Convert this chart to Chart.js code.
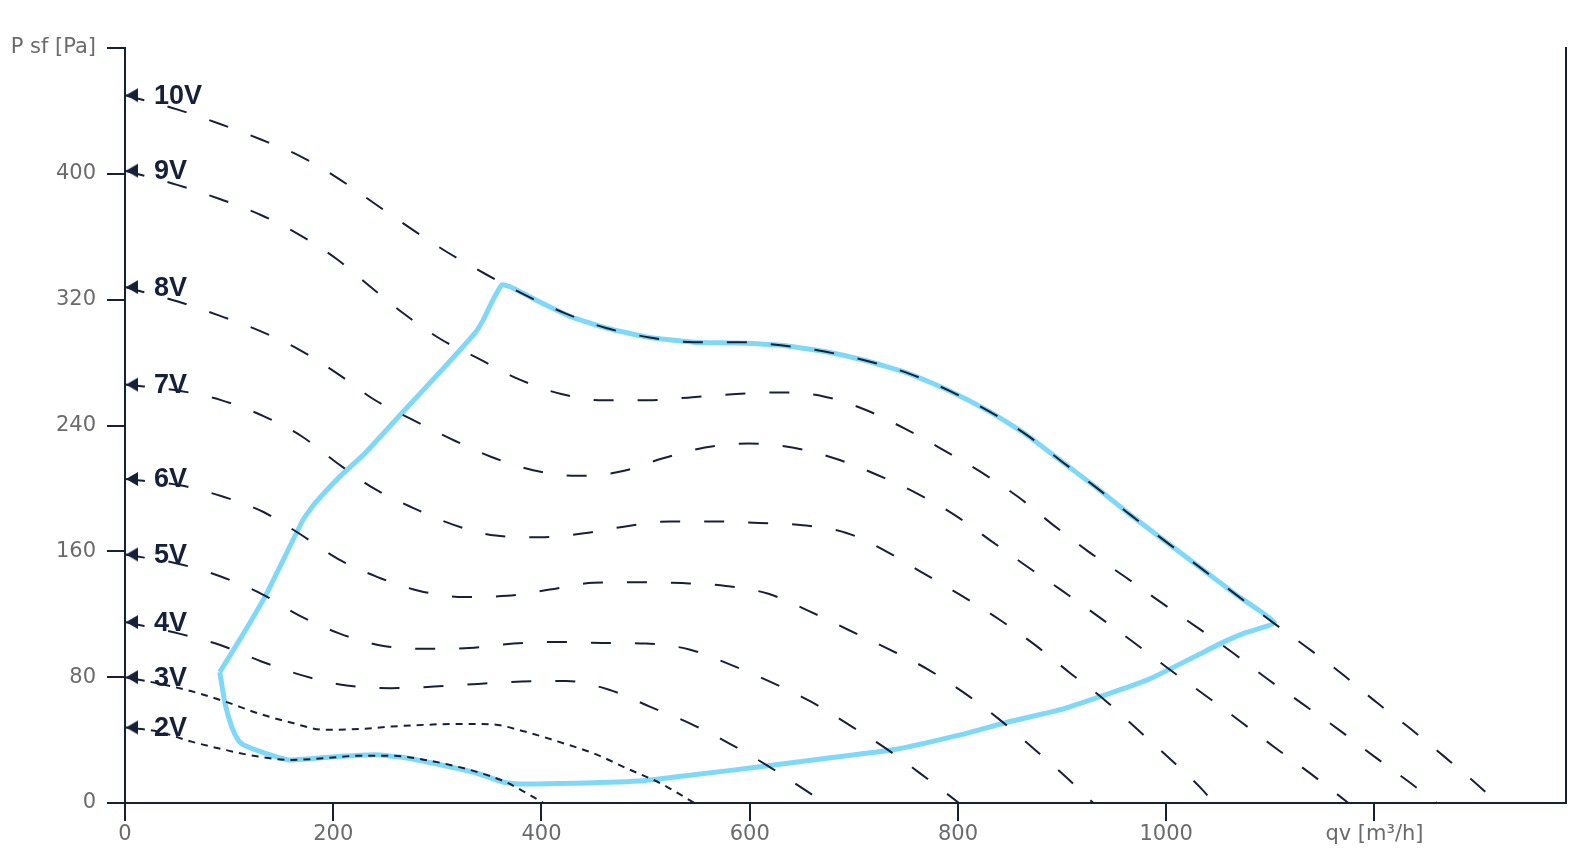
<!DOCTYPE html>
<html lang="en">
<head>
    <meta charset="UTF-8">
    <title>Fan curve P sf / qv</title>
    <style>
        body {
            margin: 0;
            background-color: #ffffff;
        }
        .chart-container {
            width: 1596px;
            height: 856px;
        }
    </style>
    <script src="https://cdn.jsdelivr.net/npm/chart.js"></script>
</head>
<body>

    <div class="chart-container">
        <canvas id="fanChart"></canvas>
    </div>

    <script>
        // control voltage curves: airflow qv [m3/h] and static pressure P sf [Pa]
        const voltLabels = ['10V', '9V', '8V', '7V', '6V', '5V', '4V', '3V', '2V'];

        const v10Qv = [0, 50, 90, 130, 169, 205, 240, 275, 310, 347, 384, 424, 462, 504, 546, 588, 630, 672, 713, 753, 792, 830, 866, 900, 933, 966, 1000, 1034, 1068, 1102, 1135, 1169, 1202, 1235, 1268, 1300, 1318];
        const v10Ps = [450, 441, 432, 422, 411, 397, 381, 365, 350, 336, 323, 311, 302, 296, 293, 293, 291, 287, 281, 273, 262, 249, 234, 217, 200.5, 183, 166, 149, 132, 115, 99, 82, 64, 47, 29, 11, 0];

        const v9Qv = [0, 50, 91, 130, 168, 203, 236, 268, 303, 341, 378, 419, 460, 503, 545, 587, 629, 671, 711, 749, 787, 823, 858, 891, 925, 960, 994, 1029, 1063, 1097, 1131, 1166, 1200, 1234, 1260];
        const v9Ps = [402, 393, 384, 374, 361, 346, 328, 311, 295, 282, 269.5, 260, 256, 256, 258, 260, 261, 258.5, 250, 238, 224, 210, 194.5, 177, 160, 144, 128, 112, 96, 79, 63, 46.5, 29.5, 13, 0];

        const v8Qv = [0, 50, 90, 130, 168, 204, 238, 275, 313, 352, 392, 434, 476, 516, 557, 599, 641, 682, 721, 760, 797, 831, 865, 900, 935, 969, 1003, 1037, 1071, 1105, 1139, 1175];
        const v8Ps = [328, 319, 310, 300, 288, 273, 257, 244, 231.5, 220, 211.6, 208, 210.7, 219, 226, 228.5, 226, 219, 209, 197, 183, 167, 151, 135, 118.5, 102, 85, 68.7, 52, 35, 18.5, 0];

        const v7Qv = [0, 53, 93, 133, 170, 204, 239, 277, 315, 356, 399, 441, 482, 524, 567, 609, 651, 693, 731, 767, 803, 839, 874, 907, 940, 972, 1003, 1034, 1046];
        const v7Ps = [266, 262, 256, 246, 233, 216, 200, 187.5, 177, 170, 169, 171.5, 176, 179, 179, 178, 176.6, 171.7, 160, 146, 132, 117, 100.5, 83, 66, 47, 28.5, 9, 0];

        const v6Qv = [0, 53, 93, 133, 168, 204, 242, 282, 325, 367, 408, 450, 492, 535, 577, 618, 657, 695, 733, 771, 806, 840, 872, 904, 930];
        const v6Ps = [206, 202, 195, 185, 171, 155.4, 143.8, 135, 131, 131.7, 135.7, 140, 140.4, 139.8, 138, 133, 122, 110, 98, 85, 70, 53, 35, 16.4, 0];

        const v5Qv = [0, 52, 92, 131, 168, 205, 247, 289, 331, 373, 416, 458, 500, 542, 582, 620, 658, 694, 730, 764, 801];
        const v5Ps = [158, 152, 144, 133, 119, 108, 100, 98, 98.6, 101.4, 102.4, 101.8, 101.4, 97.6, 87.8, 77, 64.7, 50.3, 35, 18.7, 0];

        const v4Qv = [0, 52, 92, 131, 172, 213, 255, 297, 339, 381, 424, 465, 504, 543, 581, 617, 653, 672];
        const v4Ps = [115, 107.7, 100.3, 90, 80.8, 74.7, 73, 74, 75.7, 77.2, 77.5, 72, 61.3, 50.5, 37.6, 23.8, 8.3, 0];

        const v3Qv = [0, 32, 64, 96, 128, 160, 192, 224, 256, 288, 320, 352, 384, 421, 450, 482, 514, 547];
        const v3Ps = [80, 76, 71, 64.5, 57, 51, 46.5, 47, 48.6, 49.7, 50.3, 50, 45.4, 38, 31.6, 22, 12.6, 0];

        const v2Qv = [0, 32, 64, 96, 128, 160, 192, 224, 256, 288, 320, 352, 368, 402];
        const v2Ps = [48, 45.4, 39, 33.8, 29.5, 27.4, 28.5, 30, 30, 27.4, 23, 16.8, 12.6, 0];

        // working area outline (closed loop)
        const areaQv = [91, 112, 121.6, 134.4, 153.6, 171, 182.5, 208, 230.5, 265.8, 307.4, 336, 344, 352, 362, 373, 394, 429, 462, 504, 546, 588, 630, 672, 713, 753, 792, 830, 866, 900, 933, 966, 1000, 1034, 1068, 1104, 1075, 1056, 1030, 982, 902, 850, 802, 738, 674, 610, 546, 498, 432, 378, 365, 352, 336, 304, 272, 240, 192, 157, 134.4, 113.5, 108.7, 102.4, 96, 91];
        const areaPs = [83.2, 105.8, 116.4, 131, 156.7, 180, 190.6, 208.6, 222.4, 247.8, 277.5, 298.7, 307, 318, 329.4, 327.3, 320, 309, 302, 296, 293, 292.5, 291, 287, 281, 273, 262, 249, 234, 217, 200.5, 183, 166, 149, 132, 114.7, 108, 102.6, 94, 78.3, 60, 51.8, 43.3, 33.8, 28.5, 23, 17.9, 14.2, 12.6, 12.1, 13, 15.8, 19.4, 24.2, 28.5, 30.6, 29, 27.4, 31.7, 37, 40, 48.6, 63.5, 83.2];

        const xTickValues = [0, 200, 400, 600, 800, 1000, 1200];
        const xTickLabels = ['0', '200', '400', '600', '800', '1000', 'qv [m³/h]'];
        const yTickValues = [0, 80, 160, 240, 320, 400, 480];
        const yTickLabels = ['0', '80', '160', '240', '320', '400', 'P sf [Pa]'];

        const navy = '#172039';
        const tickGrey = '#6b6b6b';

        const curves = [
            [v10Qv, v10Ps], [v9Qv, v9Ps], [v8Qv, v8Ps], [v7Qv, v7Ps], [v6Qv, v6Ps],
            [v5Qv, v5Ps], [v4Qv, v4Ps], [v3Qv, v3Ps], [v2Qv, v2Ps]
        ];

        function toPoints(qv, ps) {
            return qv.map((x, i) => ({ x: x, y: ps[i] }));
        }

        // left pointing arrow, tip sits on the point itself
        function makeArrow() {
            const c = document.createElement('canvas');
            c.width = 28;
            c.height = 16;
            const g = c.getContext('2d');
            g.fillStyle = navy;
            g.beginPath();
            g.moveTo(15, 8);
            g.lineTo(27, 1);
            g.lineTo(27, 15);
            g.closePath();
            g.fill();
            return c;
        }
        const arrow = makeArrow();

        const datasets = curves.map((c, i) => {
            const shortDash = voltLabels[i] === '3V' || voltLabels[i] === '2V';
            return {
                label: voltLabels[i],
                data: toPoints(c[0], c[1]),
                borderColor: navy,
                borderWidth: 2,
                borderDash: shortDash ? [7, 6] : [20, 24],
                cubicInterpolationMode: 'monotone',
                pointStyle: arrow,
                pointRadius: ctx => ctx.dataIndex === 0 ? 7 : 0,
                fill: false,
                clip: false
            };
        });

        datasets.push({
            label: 'area',
            data: toPoints(areaQv, areaPs),
            borderColor: '#80d8f8',
            borderWidth: 5,
            tension: 0.15,
            pointRadius: 0,
            fill: false
        });

        const voltLabelPlugin = {
            id: 'voltLabels',
            afterDatasetsDraw(chart) {
                const ctx = chart.ctx;
                ctx.save();
                ctx.font = 'bold 27px "Liberation Sans", Arial, sans-serif';
                ctx.fillStyle = navy;
                ctx.textBaseline = 'middle';
                voltLabels.forEach((label, i) => {
                    const pt = chart.getDatasetMeta(i).data[0];
                    ctx.fillText(label, pt.x + 29, pt.y + 1);
                });
                ctx.restore();
            }
        };

        const tickFont = { family: '"DejaVu Sans", sans-serif', size: 21 };

        new Chart(document.getElementById('fanChart'), {
            type: 'line',
            data: { datasets: datasets },
            plugins: [voltLabelPlugin],
            options: {
                responsive: true,
                maintainAspectRatio: false,
                animation: false,
                events: [],
                layout: { padding: { top: 48, right: 30, left: 0, bottom: 0 } },
                plugins: {
                    legend: { display: false },
                    tooltip: { enabled: false }
                },
                scales: {
                    x: {
                        type: 'linear',
                        position: 'bottom',
                        min: 0,
                        max: 1384,
                        border: { color: navy, width: 2 },
                        grid: { drawOnChartArea: false, drawTicks: true, tickLength: 18, color: navy, lineWidth: 2 },
                        ticks: {
                            color: tickGrey,
                            font: tickFont,
                            padding: 1,
                            maxRotation: 0,
                            autoSkip: false,
                            callback: value => xTickLabels[xTickValues.indexOf(value)]
                        },
                        afterBuildTicks: scale => { scale.ticks = xTickValues.map(v => ({ value: v })); },
                        afterFit: scale => { scale.height = 53; }
                    },
                    y: {
                        type: 'linear',
                        position: 'left',
                        min: 0,
                        max: 480,
                        border: { color: navy, width: 2 },
                        grid: { drawOnChartArea: false, drawTicks: true, tickLength: 18, color: navy, lineWidth: 2 },
                        ticks: {
                            color: tickGrey,
                            font: tickFont,
                            padding: 11,
                            autoSkip: false,
                            callback: value => yTickLabels[yTickValues.indexOf(value)]
                        },
                        afterBuildTicks: scale => { scale.ticks = yTickValues.map(v => ({ value: v })); },
                        afterFit: scale => { scale.width = 125; }
                    },
                    yRight: {
                        type: 'linear',
                        position: 'right',
                        min: 0,
                        max: 480,
                        border: { display: true, color: navy, width: 2 },
                        grid: { display: false },
                        ticks: { display: false },
                        afterFit: scale => { scale.width = 0; }
                    }
                }
            }
        });
    </script>
</body>
</html>
